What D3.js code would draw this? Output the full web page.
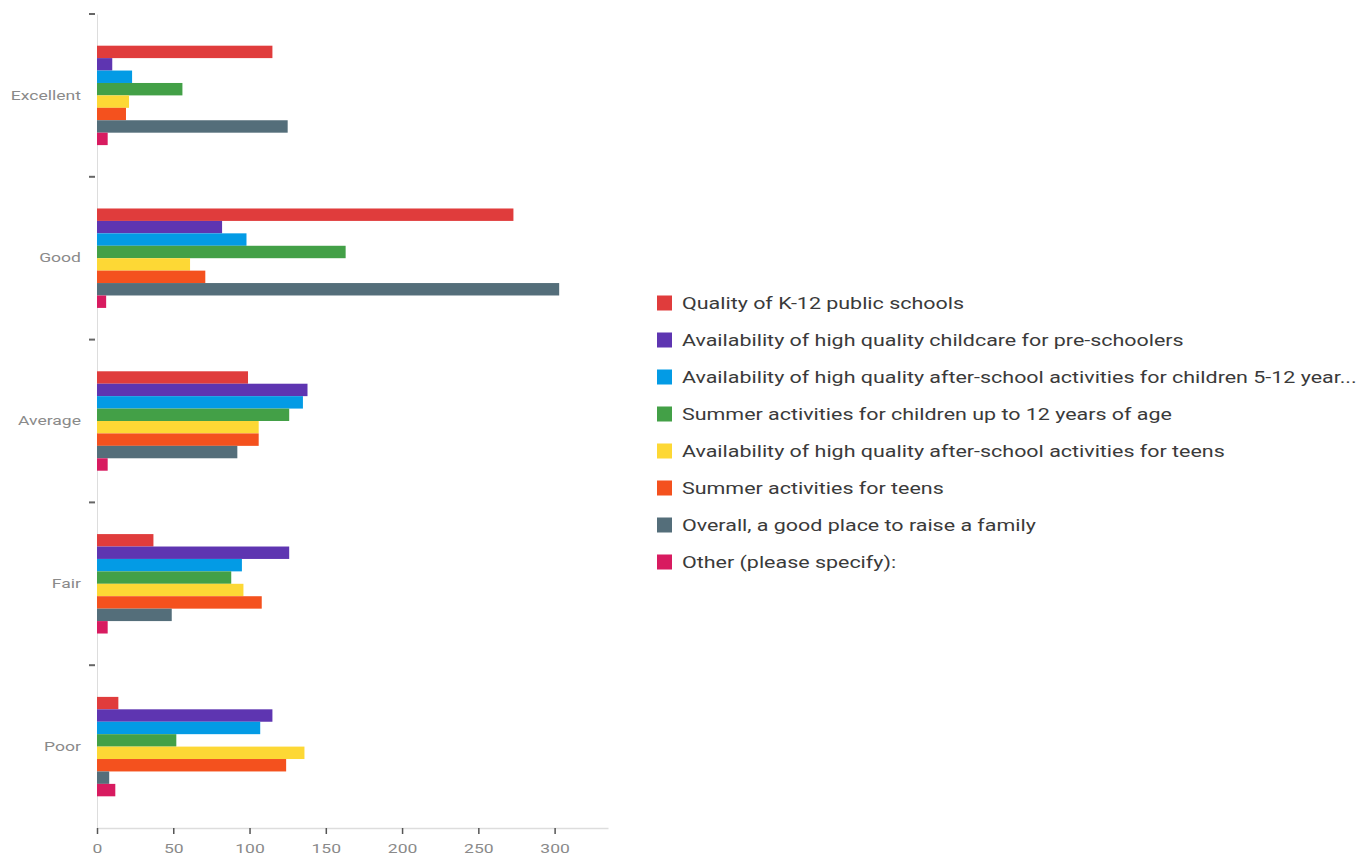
<!DOCTYPE html>
<html>
<head>
<meta charset="utf-8">
<script src="https://cdn.jsdelivr.net/npm/d3@7"></script>
<style>
  body { margin: 0; background: #fff; }
  svg { display: block; }
</style>
</head>
<body>
<svg id="chart" width="1372" height="861"></svg>
<script>
// ratings (y categories)
const categories = ['Excellent', 'Good', 'Average', 'Fair', 'Poor'];

// survey items (series), in legend order
const seriesNames = [
  'Quality of K-12 public schools',
  'Availability of high quality childcare for pre-schoolers',
  'Availability of high quality after-school activities for children 5-12 year...',
  'Summer activities for children up to 12 years of age',
  'Availability of high quality after-school activities for teens',
  'Summer activities for teens',
  'Overall, a good place to raise a family',
  'Other (please specify):'
];
const seriesColors = ['#e03c3c', '#5e35b1', '#039be5', '#43a047', '#fdd835', '#f4511e', '#546e7a', '#d81b60'];

// counts per series, one value per category (Excellent..Poor)
const k12Schools      = [115, 273, 99, 37, 14];
const childcare       = [10, 82, 138, 126, 115];
const afterSchoolKids = [23, 98, 135, 95, 107];
const summerKids      = [56, 163, 126, 88, 52];
const afterSchoolTeen = [21, 61, 106, 96, 136];
const summerTeens     = [19, 71, 106, 108, 124];
const overallFamily   = [125, 303, 92, 49, 8];
const otherSpecify    = [7, 6, 7, 7, 12];

const seriesValues = [k12Schools, childcare, afterSchoolKids, summerKids, afterSchoolTeen, summerTeens, overallFamily, otherSpecify];
const xTicks = [0, 50, 100, 150, 200, 250, 300];

const svg = d3.select('#chart');
const margin = { top: 14, left: 97, bottom: 828, right: 608 };
const FONT = 'Roboto, sans-serif';
const STRETCH = 1.35; // the reference's text is drawn wide

const x = d3.scaleLinear().domain([0, 335]).range([margin.left, margin.right]);
const y = d3.scaleBand().domain(categories).range([margin.top, margin.bottom]).padding(0);
const yInner = d3.scaleBand().domain(seriesNames).range([0, y.bandwidth()]).paddingInner(0).paddingOuter(2.55);
const color = d3.scaleOrdinal().domain(seriesNames).range(seriesColors);

// y axis line + labels
svg.append('g')
  .attr('transform', `translate(${margin.left},0)`)
  .call(d3.axisLeft(y).tickSize(0).tickPadding(16))
  .call(g => g.select('.domain').attr('stroke', '#ddd'))
  .call(g => g.selectAll('text').attr('fill', '#8a8a8a').attr('font-size', 13).attr('font-family', FONT)
    .attr('x', 0).attr('transform', `translate(-16,0) scale(${STRETCH},1)`));

// boundary ticks on y axis
svg.append('g')
  .selectAll('line')
  .data(categories)
  .join('line')
    .attr('x1', margin.left - 8).attr('x2', margin.left - 2)
    .attr('y1', d => y(d)).attr('y2', d => y(d))
    .attr('stroke', '#666').attr('stroke-width', 2);

// bars
const rows = [];
seriesNames.forEach((s, i) => categories.forEach((c, j) => rows.push({ s, c, v: seriesValues[i][j] })));

svg.append('g')
  .selectAll('rect')
  .data(rows)
  .join('rect')
    .attr('x', x(0))
    .attr('y', d => y(d.c) + yInner(d.s))
    .attr('width', d => x(d.v) - x(0))
    .attr('height', yInner.bandwidth())
    .attr('fill', d => color(d.s));

// x axis
svg.append('g')
  .attr('transform', `translate(0,${margin.bottom})`)
  .call(d3.axisBottom(x).tickValues(xTicks).tickSize(6).tickPadding(10).tickSizeOuter(0))
  .call(g => g.select('.domain').attr('stroke', '#ddd').attr('stroke-width', 1.5))
  .call(g => g.selectAll('.tick line').attr('stroke', '#555').attr('stroke-width', 1.5))
  .call(g => g.selectAll('text').attr('fill', '#8a8a8a').attr('font-size', 13).attr('font-family', FONT)
    .attr('transform', `scale(${STRETCH},1)`));

// legend
const legend = svg.append('g').attr('transform', 'translate(657,303)');
const item = legend.selectAll('g')
  .data(seriesNames)
  .join('g')
    .attr('transform', (d, i) => `translate(0,${i * 37})`);
item.append('rect')
  .attr('x', 0).attr('y', -7.5).attr('width', 15).attr('height', 15)
  .attr('fill', d => color(d));
const labels = item.append('text')
  .attr('x', 0).attr('y', 0).attr('dy', '0.35em')
  .attr('fill', '#3a3a3a')
  .attr('font-size', 17)
  .attr('font-family', FONT)
  .text(d => d);

// stretch the legend text so the longest label ends where the reference's does
const longest = labels.nodes().reduce((a, n) => Math.max(a, n.getComputedTextLength()), 0);
const k = (1357 - 682) / longest;
labels.attr('transform', `translate(25,0) scale(${k},1)`);
</script>
</body>
</html>
